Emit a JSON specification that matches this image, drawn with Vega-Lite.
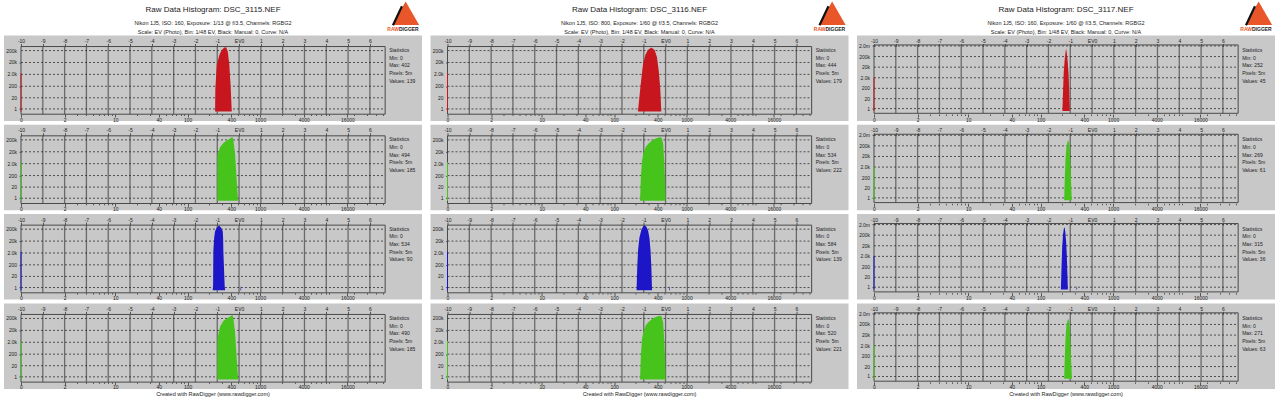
{
"$schema": "https://vega.github.io/schema/vega-lite/v6.json",
"background": "white",
"padding": {"left": 4, "top": 1.5, "right": 0, "bottom": 0},
"config": {"font": "Liberation Sans", "view": {"stroke": null, "fill": "#c8c8c8"}, "title": {"font": "Liberation Sans", "fontWeight": "normal", "color": "#222", "subtitleFont": "Liberation Sans", "subtitleColor": "#222"}, "axis": {"labelFont": "Liberation Sans", "domain": false, "grid": false, "tickColor": "#555", "labelFontSize": 5, "labelColor": "#222", "labelOverlap": false, "labelBound": false, "labelFlush": false}, "text": {"font": "Liberation Sans"}},
"datasets": {
"vgrid": [{"ev":-9},{"ev":-8},{"ev":-7},{"ev":-6},{"ev":-5},{"ev":-4},{"ev":-3},{"ev":-2},{"ev":-1},{"ev":0},{"ev":1},{"ev":2},{"ev":3},{"ev":4},{"ev":5},{"ev":6}],
"hgrid": [{"v":1,"lab":"1"},{"v":20,"lab":"20"},{"v":200,"lab":"200"},{"v":2000,"lab":"2.0k"},{"v":20000,"lab":"20k"},{"v":200000,"lab":"200k"},{"v":2000000,"lab":"2.0m"}],
"logo": [{"brand":"RawDigger"}],
"zero": [
{"p":1,"ch":"R","ev":-10,"n":2500},{"p":1,"ch":"G","ev":-10,"n":2500},{"p":1,"ch":"B","ev":-10,"n":2500},{"p":1,"ch":"G2","ev":-10,"n":2500},
{"p":2,"ch":"R","ev":-10,"n":2600},{"p":2,"ch":"G","ev":-10,"n":2600},{"p":2,"ch":"B","ev":-10,"n":2600},{"p":2,"ch":"G2","ev":-10,"n":2600},
{"p":3,"ch":"R","ev":-10,"n":2200},{"p":3,"ch":"G","ev":-10,"n":2200},{"p":3,"ch":"B","ev":-10,"n":2200},{"p":3,"ch":"G2","ev":-10,"n":2200}],
"stats": [
{"p":1,"ch":"R","txt":"Statistics\nMin: 0\nMax: 402\nPixels: 5m\nValues: 139"},
{"p":1,"ch":"G","txt":"Statistics\nMin: 0\nMax: 494\nPixels: 5m\nValues: 185"},
{"p":1,"ch":"B","txt":"Statistics\nMin: 0\nMax: 534\nPixels: 5m\nValues: 90"},
{"p":1,"ch":"G2","txt":"Statistics\nMin: 0\nMax: 490\nPixels: 5m\nValues: 185"},
{"p":2,"ch":"R","txt":"Statistics\nMin: 0\nMax: 444\nPixels: 5m\nValues: 179"},
{"p":2,"ch":"G","txt":"Statistics\nMin: 0\nMax: 534\nPixels: 5m\nValues: 222"},
{"p":2,"ch":"B","txt":"Statistics\nMin: 0\nMax: 584\nPixels: 5m\nValues: 139"},
{"p":2,"ch":"G2","txt":"Statistics\nMin: 0\nMax: 520\nPixels: 5m\nValues: 221"},
{"p":3,"ch":"R","txt":"Statistics\nMin: 0\nMax: 252\nPixels: 5m\nValues: 45"},
{"p":3,"ch":"G","txt":"Statistics\nMin: 0\nMax: 269\nPixels: 5m\nValues: 61"},
{"p":3,"ch":"B","txt":"Statistics\nMin: 0\nMax: 315\nPixels: 5m\nValues: 36"},
{"p":3,"ch":"G2","txt":"Statistics\nMin: 0\nMax: 271\nPixels: 5m\nValues: 63"}],
"hist": [
{"p":1,"ch":"R","ev":-1.10,"n":0},{"p":1,"ch":"R","ev":-1.087,"n":128},{"p":1,"ch":"R","ev":-1.023,"n":12100},{"p":1,"ch":"R","ev":-0.904,"n":84600},{"p":1,"ch":"R","ev":-0.794,"n":224000},{"p":1,"ch":"R","ev":-0.674,"n":358000},{"p":1,"ch":"R","ev":-0.596,"n":390000},{"p":1,"ch":"R","ev":-0.518,"n":164000},{"p":1,"ch":"R","ev":-0.445,"n":12100},{"p":1,"ch":"R","ev":-0.381,"n":128},{"p":1,"ch":"R","ev":-0.335,"n":0},
{"p":1,"ch":"G","ev":-1.00,"n":0},{"p":1,"ch":"G","ev":-0.992,"n":9550},{"p":1,"ch":"G","ev":-0.872,"n":49000},{"p":1,"ch":"G","ev":-0.72,"n":107000},{"p":1,"ch":"G","ev":-0.564,"n":177000},{"p":1,"ch":"G","ev":-0.413,"n":262000},{"p":1,"ch":"G","ev":-0.307,"n":344000},{"p":1,"ch":"G","ev":-0.261,"n":207000},{"p":1,"ch":"G","ev":-0.183,"n":13600},{"p":1,"ch":"G","ev":-0.106,"n":72},{"p":1,"ch":"G","ev":-0.046,"n":0},
{"p":1,"ch":"B","ev":-1.21,"n":0},{"p":1,"ch":"B","ev":-1.19,"n":2},{"p":1,"ch":"B","ev":-1.179,"n":2750},{"p":1,"ch":"B","ev":-1.14,"n":40000},{"p":1,"ch":"B","ev":-1.101,"n":135000},{"p":1,"ch":"B","ev":-1.02,"n":280000},{"p":1,"ch":"B","ev":-0.92,"n":400000},{"p":1,"ch":"B","ev":-0.83,"n":280000},{"p":1,"ch":"B","ev":-0.748,"n":135000},{"p":1,"ch":"B","ev":-0.73,"n":30000},{"p":1,"ch":"B","ev":-0.72,"n":2750},{"p":1,"ch":"B","ev":-0.66,"n":2},{"p":1,"ch":"B","ev":-0.64,"n":0},{"p":1,"ch":"B","ev":0.06,"n":0},{"p":1,"ch":"B","ev":0.08,"n":2},{"p":1,"ch":"B","ev":0.10,"n":0},
{"p":1,"ch":"G2","ev":-1.00,"n":0},{"p":1,"ch":"G2","ev":-0.992,"n":4000},{"p":1,"ch":"G2","ev":-0.872,"n":40000},{"p":1,"ch":"G2","ev":-0.72,"n":120000},{"p":1,"ch":"G2","ev":-0.564,"n":200000},{"p":1,"ch":"G2","ev":-0.413,"n":300000},{"p":1,"ch":"G2","ev":-0.307,"n":400000},{"p":1,"ch":"G2","ev":-0.261,"n":220000},{"p":1,"ch":"G2","ev":-0.183,"n":14000},{"p":1,"ch":"G2","ev":-0.106,"n":80},{"p":1,"ch":"G2","ev":-0.04,"n":0},
{"p":2,"ch":"R","ev":-1.268,"n":0},{"p":2,"ch":"R","ev":-1.144,"n":245},{"p":2,"ch":"R","ev":-1.039,"n":12100},{"p":2,"ch":"R","ev":-0.929,"n":84600},{"p":2,"ch":"R","ev":-0.810,"n":224000},{"p":2,"ch":"R","ev":-0.654,"n":358000},{"p":2,"ch":"R","ev":-0.503,"n":224000},{"p":2,"ch":"R","ev":-0.398,"n":62000},{"p":2,"ch":"R","ev":-0.307,"n":3340},{"p":2,"ch":"R","ev":-0.243,"n":128},{"p":2,"ch":"R","ev":-0.197,"n":0},
{"p":2,"ch":"G","ev":-1.17,"n":0},{"p":2,"ch":"G","ev":-1.13,"n":193},{"p":2,"ch":"G","ev":-1.08,"n":3614},{"p":2,"ch":"G","ev":-1.01,"n":17100},{"p":2,"ch":"G","ev":-0.90,"n":55200},{"p":2,"ch":"G","ev":-0.78,"n":98900},{"p":2,"ch":"G","ev":-0.62,"n":177000},{"p":2,"ch":"G","ev":-0.45,"n":262000},{"p":2,"ch":"G","ev":-0.28,"n":340000},{"p":2,"ch":"G","ev":-0.18,"n":300000},{"p":2,"ch":"G","ev":-0.11,"n":100000},{"p":2,"ch":"G","ev":-0.06,"n":3600},{"p":2,"ch":"G","ev":-0.02,"n":72},{"p":2,"ch":"G","ev":0.0,"n":0},
{"p":2,"ch":"B","ev":-1.33,"n":0},{"p":2,"ch":"B","ev":-1.30,"n":107},{"p":2,"ch":"B","ev":-1.26,"n":3614},{"p":2,"ch":"B","ev":-1.20,"n":37400},{"p":2,"ch":"B","ev":-1.12,"n":146000},{"p":2,"ch":"B","ev":-1.04,"n":318000},{"p":2,"ch":"B","ev":-0.96,"n":427000},{"p":2,"ch":"B","ev":-0.88,"n":318000},{"p":2,"ch":"B","ev":-0.80,"n":146000},{"p":2,"ch":"B","ev":-0.74,"n":37400},{"p":2,"ch":"B","ev":-0.69,"n":3614},{"p":2,"ch":"B","ev":-0.65,"n":107},{"p":2,"ch":"B","ev":-0.62,"n":0},{"p":2,"ch":"B","ev":0.17,"n":0},{"p":2,"ch":"B","ev":0.19,"n":2},{"p":2,"ch":"B","ev":0.21,"n":0},
{"p":2,"ch":"G2","ev":-1.17,"n":0},{"p":2,"ch":"G2","ev":-1.13,"n":200},{"p":2,"ch":"G2","ev":-1.08,"n":4000},{"p":2,"ch":"G2","ev":-1.01,"n":18000},{"p":2,"ch":"G2","ev":-0.90,"n":57000},{"p":2,"ch":"G2","ev":-0.78,"n":100000},{"p":2,"ch":"G2","ev":-0.62,"n":180000},{"p":2,"ch":"G2","ev":-0.45,"n":270000},{"p":2,"ch":"G2","ev":-0.28,"n":345000},{"p":2,"ch":"G2","ev":-0.18,"n":290000},{"p":2,"ch":"G2","ev":-0.11,"n":95000},{"p":2,"ch":"G2","ev":-0.06,"n":3400},{"p":2,"ch":"G2","ev":-0.02,"n":70},{"p":2,"ch":"G2","ev":0.0,"n":0},
{"p":3,"ch":"R","ev":-1.36,"n":0},{"p":3,"ch":"R","ev":-1.33,"n":116},{"p":3,"ch":"R","ev":-1.30,"n":5975},{"p":3,"ch":"R","ev":-1.26,"n":81900},{"p":3,"ch":"R","ev":-1.22,"n":469000},{"p":3,"ch":"R","ev":-1.19,"n":1122000},{"p":3,"ch":"R","ev":-1.16,"n":469000},{"p":3,"ch":"R","ev":-1.12,"n":81900},{"p":3,"ch":"R","ev":-1.08,"n":5975},{"p":3,"ch":"R","ev":-1.05,"n":181},{"p":3,"ch":"R","ev":-1.02,"n":0},
{"p":3,"ch":"G","ev":-1.28,"n":0},{"p":3,"ch":"G","ev":-1.25,"n":181},{"p":3,"ch":"G","ev":-1.22,"n":9240},{"p":3,"ch":"G","ev":-1.18,"n":127000},{"p":3,"ch":"G","ev":-1.13,"n":469000},{"p":3,"ch":"G","ev":-1.09,"n":726000},{"p":3,"ch":"G","ev":-1.05,"n":377000},{"p":3,"ch":"G","ev":-1.02,"n":81900},{"p":3,"ch":"G","ev":-0.99,"n":3860},{"p":3,"ch":"G","ev":-0.96,"n":73},{"p":3,"ch":"G","ev":-0.93,"n":0},
{"p":3,"ch":"B","ev":-1.43,"n":0},{"p":3,"ch":"B","ev":-1.40,"n":181},{"p":3,"ch":"B","ev":-1.37,"n":14300},{"p":3,"ch":"B","ev":-1.33,"n":244000},{"p":3,"ch":"B","ev":-1.29,"n":903000},{"p":3,"ch":"B","ev":-1.26,"n":1122000},{"p":3,"ch":"B","ev":-1.23,"n":469000},{"p":3,"ch":"B","ev":-1.19,"n":53000},{"p":3,"ch":"B","ev":-1.16,"n":3100},{"p":3,"ch":"B","ev":-1.13,"n":38},{"p":3,"ch":"B","ev":-1.11,"n":0},{"p":3,"ch":"B","ev":-0.72,"n":0},{"p":3,"ch":"B","ev":-0.70,"n":2},{"p":3,"ch":"B","ev":-0.68,"n":0},
{"p":3,"ch":"G2","ev":-1.28,"n":0},{"p":3,"ch":"G2","ev":-1.25,"n":150},{"p":3,"ch":"G2","ev":-1.22,"n":8000},{"p":3,"ch":"G2","ev":-1.18,"n":120000},{"p":3,"ch":"G2","ev":-1.13,"n":450000},{"p":3,"ch":"G2","ev":-1.09,"n":700000},{"p":3,"ch":"G2","ev":-1.05,"n":360000},{"p":3,"ch":"G2","ev":-1.02,"n":80000},{"p":3,"ch":"G2","ev":-0.99,"n":4000},{"p":3,"ch":"G2","ev":-0.96,"n":80},{"p":3,"ch":"G2","ev":-0.92,"n":0}
]
},
"spacing": 8.5,
"hconcat": [
{"spacing": 2.3,
 "title": {"text": "Raw Data Histogram: DSC_3115.NEF", "subtitle": ["Nikon 1J5, ISO: 160, Exposure: 1/13 @ f/3.5, Channels: RGBG2", "Scale: EV (Photo), Bin: 1/48 EV, Black: Manual: 0, Curve: N/A"], "anchor": "middle", "fontSize": 8, "subtitleFontSize": 5.5, "subtitlePadding": 6.5, "subtitleLineHeight": 9.5, "offset": -34},
 "vconcat": [
  {"width":418,"height":85.5,"resolve":{"axis":{"x":"independent"}},"layer":[
   {"data":{"name":"vgrid"},"mark":{"type":"rule","color":"#6a6a6a","strokeWidth":1.3},"encoding":{"x":{"field":"ev","type":"quantitative","title":null,"scale":{"domain":[-10.78,8.39],"nice":false,"zero":false},"axis":{"orient":"top","offset":-11,"values":[-10,-9,-8,-7,-6,-5,-4,-3,-2,-1,0,1,2,3,4,5,6],"labelExpr":"datum.value == 0 ? 'EV0' : '' + datum.value","tickSize":3,"labelPadding":0,"title":null}},"y":{"datum":-1,"type":"quantitative","title":null,"scale":{"type":"symlog","constant":1.5,"domain":[-7.8,3700000],"nice":false,"zero":false},"axis":{"orient":"left","offset":-17,"values":[1,20,200,2000,20000,200000],"labels":false,"tickSize":2,"title":null}},"y2":{"datum":437000}}},
   {"data":{"name":"hgrid"},"transform":[{"filter":"datum.v < 1000000"}],"mark":{"type":"rule","color":"#303030","strokeWidth":0.8,"strokeDash":[2,2]},"encoding":{"x":{"datum":-10,"type":"quantitative","axis":null},"x2":{"datum":6.7},"y":{"field":"v","type":"quantitative","title":null}}},
   {"data":{"name":"hgrid"},"transform":[{"filter":"datum.v < 1000000"}],"mark":{"type":"text","align":"right","baseline":"middle","dx":-4,"fontSize":5,"color":"#222"},"encoding":{"x":{"datum":-10,"type":"quantitative","axis":null},"y":{"field":"v","type":"quantitative","title":null},"text":{"field":"lab"}}},
   {"data":{"values":[{}]},"mark":{"type":"rect","fillOpacity":0,"stroke":"#4a4a4a","strokeWidth":1},"encoding":{"x":{"datum":-10,"type":"quantitative","axis":{"orient":"bottom","offset":-7,"values":[-10,-8,-7.41504,-7,-6.67807,-6.41504,-6.19265,-6,-5.83007,-5.678072,-4.67807,-4.09311,-3.678072,-3.35614,-3.09311,-2.87072,-2.67807,-2.50815,-2.356144,-1.35614,-0.77118,-0.356144,-0.03422,0.22882,0.45121,0.64386,0.81378,0.965784,1.96578,2.55075,2.965784,3.28771,3.55075,3.77314,3.96578,4.13571,4.965784,5.28771,5.87267,6.28771,6.60964],"labelExpr":"datum.value <= -10 ? '0' : (indexof([2,10,40,100,400,1000,4000,16000], round(512*pow(2, datum.value))) >= 0 ? '' + round(512*pow(2, datum.value)) : '')","tickSize":{"condition":{"test":"datum.value <= -10 || indexof([2,10,40,100,400,1000,4000,16000], round(512*pow(2, datum.value))) >= 0","value":3},"value":1.5},"labelPadding":0,"title":null}},"x2":{"datum":6.7},"y":{"datum":-1,"type":"quantitative"},"y2":{"datum":437000}}},
   {"data":{"name":"hist"},"transform":[{"filter":"datum.p == 1 && datum.ch == 'R'"}],"mark":{"type":"area","color":"#c8161e"},"encoding":{"x":{"field":"ev","type":"quantitative","axis":null},"y":{"field":"n","type":"quantitative","title":null},"y2":{"datum":0}}},
   {"data":{"name":"zero"},"transform":[{"filter":"datum.p == 1 && datum.ch == 'R'"}],"mark":{"type":"rule","color":"#c8161e","strokeWidth":1},"encoding":{"x":{"field":"ev","type":"quantitative","axis":null},"y":{"field":"n","type":"quantitative"},"y2":{"datum":0}}},
   {"data":{"name":"stats"},"transform":[{"filter":"datum.p == 1 && datum.ch == 'R'"}],"mark":{"type":"text","align":"left","baseline":"top","dx":4,"dy":1.5,"fontSize":5,"lineHeight":7.7,"lineBreak":"\n","color":"#222"},"encoding":{"x":{"datum":6.7,"type":"quantitative","axis":null},"y":{"datum":437000,"type":"quantitative"},"text":{"field":"txt"}}},
   {"data":{"name":"logo"},"mark":{"type":"point","shape":"triangle-up","filled":true,"size":729,"color":"#e8562a","opacity":1},"encoding":{"x":{"datum":7.64,"type":"quantitative","axis":null},"y":{"datum":277000000,"type":"quantitative"}}},
   {"data":{"name":"logo"},"mark":{"type":"rule","color":"#111","strokeWidth":2.2},"encoding":{"x":{"datum":7.06,"type":"quantitative","axis":null},"x2":{"datum":7.47},"y":{"datum":27200000,"type":"quantitative"},"y2":{"datum":1080000000}}},
   {"data":{"name":"logo"},"mark":{"type":"text","text":"RAW","align":"right","baseline":"middle","fontSize":5,"fontWeight":"bold","color":"#e8562a"},"encoding":{"x":{"datum":7.335,"type":"quantitative","axis":null},"y":{"datum":12500000,"type":"quantitative"}}},
   {"data":{"name":"logo"},"mark":{"type":"text","text":"DIGGER","align":"left","baseline":"middle","fontSize":5,"fontWeight":"bold","color":"#222"},"encoding":{"x":{"datum":7.335,"type":"quantitative","axis":null},"y":{"datum":12500000,"type":"quantitative"}}}
  ]},
  {"width":418,"height":85.5,"resolve":{"axis":{"x":"independent"}},"layer":[
   {"data":{"name":"vgrid"},"mark":{"type":"rule","color":"#6a6a6a","strokeWidth":1.3},"encoding":{"x":{"field":"ev","type":"quantitative","title":null,"scale":{"domain":[-10.78,8.39],"nice":false,"zero":false},"axis":{"orient":"top","offset":-11,"values":[-10,-9,-8,-7,-6,-5,-4,-3,-2,-1,0,1,2,3,4,5,6],"labelExpr":"datum.value == 0 ? 'EV0' : '' + datum.value","tickSize":3,"labelPadding":0,"title":null}},"y":{"datum":-1,"type":"quantitative","title":null,"scale":{"type":"symlog","constant":1.5,"domain":[-7.8,3700000],"nice":false,"zero":false},"axis":{"orient":"left","offset":-17,"values":[1,20,200,2000,20000,200000],"labels":false,"tickSize":2,"title":null}},"y2":{"datum":437000}}},
   {"data":{"name":"hgrid"},"transform":[{"filter":"datum.v < 1000000"}],"mark":{"type":"rule","color":"#303030","strokeWidth":0.8,"strokeDash":[2,2]},"encoding":{"x":{"datum":-10,"type":"quantitative","axis":null},"x2":{"datum":6.7},"y":{"field":"v","type":"quantitative","title":null}}},
   {"data":{"name":"hgrid"},"transform":[{"filter":"datum.v < 1000000"}],"mark":{"type":"text","align":"right","baseline":"middle","dx":-4,"fontSize":5,"color":"#222"},"encoding":{"x":{"datum":-10,"type":"quantitative","axis":null},"y":{"field":"v","type":"quantitative","title":null},"text":{"field":"lab"}}},
   {"data":{"values":[{}]},"mark":{"type":"rect","fillOpacity":0,"stroke":"#4a4a4a","strokeWidth":1},"encoding":{"x":{"datum":-10,"type":"quantitative","axis":{"orient":"bottom","offset":-7,"values":[-10,-8,-7.41504,-7,-6.67807,-6.41504,-6.19265,-6,-5.83007,-5.678072,-4.67807,-4.09311,-3.678072,-3.35614,-3.09311,-2.87072,-2.67807,-2.50815,-2.356144,-1.35614,-0.77118,-0.356144,-0.03422,0.22882,0.45121,0.64386,0.81378,0.965784,1.96578,2.55075,2.965784,3.28771,3.55075,3.77314,3.96578,4.13571,4.965784,5.28771,5.87267,6.28771,6.60964],"labelExpr":"datum.value <= -10 ? '0' : (indexof([2,10,40,100,400,1000,4000,16000], round(512*pow(2, datum.value))) >= 0 ? '' + round(512*pow(2, datum.value)) : '')","tickSize":{"condition":{"test":"datum.value <= -10 || indexof([2,10,40,100,400,1000,4000,16000], round(512*pow(2, datum.value))) >= 0","value":3},"value":1.5},"labelPadding":0,"title":null}},"x2":{"datum":6.7},"y":{"datum":-1,"type":"quantitative"},"y2":{"datum":437000}}},
   {"data":{"name":"hist"},"transform":[{"filter":"datum.p == 1 && datum.ch == 'G'"}],"mark":{"type":"area","color":"#47c41c"},"encoding":{"x":{"field":"ev","type":"quantitative","axis":null},"y":{"field":"n","type":"quantitative","title":null},"y2":{"datum":0}}},
   {"data":{"name":"zero"},"transform":[{"filter":"datum.p == 1 && datum.ch == 'G'"}],"mark":{"type":"rule","color":"#47c41c","strokeWidth":1},"encoding":{"x":{"field":"ev","type":"quantitative","axis":null},"y":{"field":"n","type":"quantitative"},"y2":{"datum":0}}},
   {"data":{"name":"stats"},"transform":[{"filter":"datum.p == 1 && datum.ch == 'G'"}],"mark":{"type":"text","align":"left","baseline":"top","dx":4,"dy":1.5,"fontSize":5,"lineHeight":7.7,"lineBreak":"\n","color":"#222"},"encoding":{"x":{"datum":6.7,"type":"quantitative","axis":null},"y":{"datum":437000,"type":"quantitative"},"text":{"field":"txt"}}}
  ]},
  {"width":418,"height":85.5,"resolve":{"axis":{"x":"independent"}},"layer":[
   {"data":{"name":"vgrid"},"mark":{"type":"rule","color":"#6a6a6a","strokeWidth":1.3},"encoding":{"x":{"field":"ev","type":"quantitative","title":null,"scale":{"domain":[-10.78,8.39],"nice":false,"zero":false},"axis":{"orient":"top","offset":-11,"values":[-10,-9,-8,-7,-6,-5,-4,-3,-2,-1,0,1,2,3,4,5,6],"labelExpr":"datum.value == 0 ? 'EV0' : '' + datum.value","tickSize":3,"labelPadding":0,"title":null}},"y":{"datum":-1,"type":"quantitative","title":null,"scale":{"type":"symlog","constant":1.5,"domain":[-7.8,3700000],"nice":false,"zero":false},"axis":{"orient":"left","offset":-17,"values":[1,20,200,2000,20000,200000],"labels":false,"tickSize":2,"title":null}},"y2":{"datum":437000}}},
   {"data":{"name":"hgrid"},"transform":[{"filter":"datum.v < 1000000"}],"mark":{"type":"rule","color":"#303030","strokeWidth":0.8,"strokeDash":[2,2]},"encoding":{"x":{"datum":-10,"type":"quantitative","axis":null},"x2":{"datum":6.7},"y":{"field":"v","type":"quantitative","title":null}}},
   {"data":{"name":"hgrid"},"transform":[{"filter":"datum.v < 1000000"}],"mark":{"type":"text","align":"right","baseline":"middle","dx":-4,"fontSize":5,"color":"#222"},"encoding":{"x":{"datum":-10,"type":"quantitative","axis":null},"y":{"field":"v","type":"quantitative","title":null},"text":{"field":"lab"}}},
   {"data":{"values":[{}]},"mark":{"type":"rect","fillOpacity":0,"stroke":"#4a4a4a","strokeWidth":1},"encoding":{"x":{"datum":-10,"type":"quantitative","axis":{"orient":"bottom","offset":-7,"values":[-10,-8,-7.41504,-7,-6.67807,-6.41504,-6.19265,-6,-5.83007,-5.678072,-4.67807,-4.09311,-3.678072,-3.35614,-3.09311,-2.87072,-2.67807,-2.50815,-2.356144,-1.35614,-0.77118,-0.356144,-0.03422,0.22882,0.45121,0.64386,0.81378,0.965784,1.96578,2.55075,2.965784,3.28771,3.55075,3.77314,3.96578,4.13571,4.965784,5.28771,5.87267,6.28771,6.60964],"labelExpr":"datum.value <= -10 ? '0' : (indexof([2,10,40,100,400,1000,4000,16000], round(512*pow(2, datum.value))) >= 0 ? '' + round(512*pow(2, datum.value)) : '')","tickSize":{"condition":{"test":"datum.value <= -10 || indexof([2,10,40,100,400,1000,4000,16000], round(512*pow(2, datum.value))) >= 0","value":3},"value":1.5},"labelPadding":0,"title":null}},"x2":{"datum":6.7},"y":{"datum":-1,"type":"quantitative"},"y2":{"datum":437000}}},
   {"data":{"name":"hist"},"transform":[{"filter":"datum.p == 1 && datum.ch == 'B'"}],"mark":{"type":"area","color":"#1c16c8"},"encoding":{"x":{"field":"ev","type":"quantitative","axis":null},"y":{"field":"n","type":"quantitative","title":null},"y2":{"datum":0}}},
   {"data":{"name":"zero"},"transform":[{"filter":"datum.p == 1 && datum.ch == 'B'"}],"mark":{"type":"rule","color":"#1c16c8","strokeWidth":1},"encoding":{"x":{"field":"ev","type":"quantitative","axis":null},"y":{"field":"n","type":"quantitative"},"y2":{"datum":0}}},
   {"data":{"name":"stats"},"transform":[{"filter":"datum.p == 1 && datum.ch == 'B'"}],"mark":{"type":"text","align":"left","baseline":"top","dx":4,"dy":1.5,"fontSize":5,"lineHeight":7.7,"lineBreak":"\n","color":"#222"},"encoding":{"x":{"datum":6.7,"type":"quantitative","axis":null},"y":{"datum":437000,"type":"quantitative"},"text":{"field":"txt"}}}
  ]},
  {"width":418,"height":85.5,"resolve":{"axis":{"x":"independent"}},
   "title":{"text":"Created with RawDigger (www.rawdigger.com)","orient":"bottom","anchor":"middle","fontSize":5.5,"offset":2},
   "layer":[
   {"data":{"name":"vgrid"},"mark":{"type":"rule","color":"#6a6a6a","strokeWidth":1.3},"encoding":{"x":{"field":"ev","type":"quantitative","title":null,"scale":{"domain":[-10.78,8.39],"nice":false,"zero":false},"axis":{"orient":"top","offset":-11,"values":[-10,-9,-8,-7,-6,-5,-4,-3,-2,-1,0,1,2,3,4,5,6],"labelExpr":"datum.value == 0 ? 'EV0' : '' + datum.value","tickSize":3,"labelPadding":0,"title":null}},"y":{"datum":-1,"type":"quantitative","title":null,"scale":{"type":"symlog","constant":1.5,"domain":[-7.8,3700000],"nice":false,"zero":false},"axis":{"orient":"left","offset":-17,"values":[1,20,200,2000,20000,200000],"labels":false,"tickSize":2,"title":null}},"y2":{"datum":437000}}},
   {"data":{"name":"hgrid"},"transform":[{"filter":"datum.v < 1000000"}],"mark":{"type":"rule","color":"#303030","strokeWidth":0.8,"strokeDash":[2,2]},"encoding":{"x":{"datum":-10,"type":"quantitative","axis":null},"x2":{"datum":6.7},"y":{"field":"v","type":"quantitative","title":null}}},
   {"data":{"name":"hgrid"},"transform":[{"filter":"datum.v < 1000000"}],"mark":{"type":"text","align":"right","baseline":"middle","dx":-4,"fontSize":5,"color":"#222"},"encoding":{"x":{"datum":-10,"type":"quantitative","axis":null},"y":{"field":"v","type":"quantitative","title":null},"text":{"field":"lab"}}},
   {"data":{"values":[{}]},"mark":{"type":"rect","fillOpacity":0,"stroke":"#4a4a4a","strokeWidth":1},"encoding":{"x":{"datum":-10,"type":"quantitative","axis":{"orient":"bottom","offset":-7,"values":[-10,-8,-7.41504,-7,-6.67807,-6.41504,-6.19265,-6,-5.83007,-5.678072,-4.67807,-4.09311,-3.678072,-3.35614,-3.09311,-2.87072,-2.67807,-2.50815,-2.356144,-1.35614,-0.77118,-0.356144,-0.03422,0.22882,0.45121,0.64386,0.81378,0.965784,1.96578,2.55075,2.965784,3.28771,3.55075,3.77314,3.96578,4.13571,4.965784,5.28771,5.87267,6.28771,6.60964],"labelExpr":"datum.value <= -10 ? '0' : (indexof([2,10,40,100,400,1000,4000,16000], round(512*pow(2, datum.value))) >= 0 ? '' + round(512*pow(2, datum.value)) : '')","tickSize":{"condition":{"test":"datum.value <= -10 || indexof([2,10,40,100,400,1000,4000,16000], round(512*pow(2, datum.value))) >= 0","value":3},"value":1.5},"labelPadding":0,"title":null}},"x2":{"datum":6.7},"y":{"datum":-1,"type":"quantitative"},"y2":{"datum":437000}}},
   {"data":{"name":"hist"},"transform":[{"filter":"datum.p == 1 && datum.ch == 'G2'"}],"mark":{"type":"area","color":"#47c41c"},"encoding":{"x":{"field":"ev","type":"quantitative","axis":null},"y":{"field":"n","type":"quantitative","title":null},"y2":{"datum":0}}},
   {"data":{"name":"zero"},"transform":[{"filter":"datum.p == 1 && datum.ch == 'G2'"}],"mark":{"type":"rule","color":"#47c41c","strokeWidth":1},"encoding":{"x":{"field":"ev","type":"quantitative","axis":null},"y":{"field":"n","type":"quantitative"},"y2":{"datum":0}}},
   {"data":{"name":"stats"},"transform":[{"filter":"datum.p == 1 && datum.ch == 'G2'"}],"mark":{"type":"text","align":"left","baseline":"top","dx":4,"dy":1.5,"fontSize":5,"lineHeight":7.7,"lineBreak":"\n","color":"#222"},"encoding":{"x":{"datum":6.7,"type":"quantitative","axis":null},"y":{"datum":437000,"type":"quantitative"},"text":{"field":"txt"}}}
  ]}
 ]},
{"spacing": 2.3,
 "title": {"text": "Raw Data Histogram: DSC_3116.NEF", "subtitle": ["Nikon 1J5, ISO: 800, Exposure: 1/60 @ f/3.5, Channels: RGBG2", "Scale: EV (Photo), Bin: 1/48 EV, Black: Manual: 0, Curve: N/A"], "anchor": "middle", "fontSize": 8, "subtitleFontSize": 5.5, "subtitlePadding": 6.5, "subtitleLineHeight": 9.5, "offset": -34},
 "vconcat": [
  {"width":418,"height":85.5,"resolve":{"axis":{"x":"independent"}},"layer":[
   {"data":{"name":"vgrid"},"mark":{"type":"rule","color":"#6a6a6a","strokeWidth":1.3},"encoding":{"x":{"field":"ev","type":"quantitative","title":null,"scale":{"domain":[-10.78,8.39],"nice":false,"zero":false},"axis":{"orient":"top","offset":-11,"values":[-10,-9,-8,-7,-6,-5,-4,-3,-2,-1,0,1,2,3,4,5,6],"labelExpr":"datum.value == 0 ? 'EV0' : '' + datum.value","tickSize":3,"labelPadding":0,"title":null}},"y":{"datum":-1,"type":"quantitative","title":null,"scale":{"type":"symlog","constant":1.5,"domain":[-7.8,3700000],"nice":false,"zero":false},"axis":{"orient":"left","offset":-17,"values":[1,20,200,2000,20000,200000],"labels":false,"tickSize":2,"title":null}},"y2":{"datum":437000}}},
   {"data":{"name":"hgrid"},"transform":[{"filter":"datum.v < 1000000"}],"mark":{"type":"rule","color":"#303030","strokeWidth":0.8,"strokeDash":[2,2]},"encoding":{"x":{"datum":-10,"type":"quantitative","axis":null},"x2":{"datum":6.7},"y":{"field":"v","type":"quantitative","title":null}}},
   {"data":{"name":"hgrid"},"transform":[{"filter":"datum.v < 1000000"}],"mark":{"type":"text","align":"right","baseline":"middle","dx":-4,"fontSize":5,"color":"#222"},"encoding":{"x":{"datum":-10,"type":"quantitative","axis":null},"y":{"field":"v","type":"quantitative","title":null},"text":{"field":"lab"}}},
   {"data":{"values":[{}]},"mark":{"type":"rect","fillOpacity":0,"stroke":"#4a4a4a","strokeWidth":1},"encoding":{"x":{"datum":-10,"type":"quantitative","axis":{"orient":"bottom","offset":-7,"values":[-10,-8,-7.41504,-7,-6.67807,-6.41504,-6.19265,-6,-5.83007,-5.678072,-4.67807,-4.09311,-3.678072,-3.35614,-3.09311,-2.87072,-2.67807,-2.50815,-2.356144,-1.35614,-0.77118,-0.356144,-0.03422,0.22882,0.45121,0.64386,0.81378,0.965784,1.96578,2.55075,2.965784,3.28771,3.55075,3.77314,3.96578,4.13571,4.965784,5.28771,5.87267,6.28771,6.60964],"labelExpr":"datum.value <= -10 ? '0' : (indexof([2,10,40,100,400,1000,4000,16000], round(512*pow(2, datum.value))) >= 0 ? '' + round(512*pow(2, datum.value)) : '')","tickSize":{"condition":{"test":"datum.value <= -10 || indexof([2,10,40,100,400,1000,4000,16000], round(512*pow(2, datum.value))) >= 0","value":3},"value":1.5},"labelPadding":0,"title":null}},"x2":{"datum":6.7},"y":{"datum":-1,"type":"quantitative"},"y2":{"datum":437000}}},
   {"data":{"name":"hist"},"transform":[{"filter":"datum.p == 2 && datum.ch == 'R'"}],"mark":{"type":"area","color":"#c8161e"},"encoding":{"x":{"field":"ev","type":"quantitative","axis":null},"y":{"field":"n","type":"quantitative","title":null},"y2":{"datum":0}}},
   {"data":{"name":"zero"},"transform":[{"filter":"datum.p == 2 && datum.ch == 'R'"}],"mark":{"type":"rule","color":"#c8161e","strokeWidth":1},"encoding":{"x":{"field":"ev","type":"quantitative","axis":null},"y":{"field":"n","type":"quantitative"},"y2":{"datum":0}}},
   {"data":{"name":"stats"},"transform":[{"filter":"datum.p == 2 && datum.ch == 'R'"}],"mark":{"type":"text","align":"left","baseline":"top","dx":4,"dy":1.5,"fontSize":5,"lineHeight":7.7,"lineBreak":"\n","color":"#222"},"encoding":{"x":{"datum":6.7,"type":"quantitative","axis":null},"y":{"datum":437000,"type":"quantitative"},"text":{"field":"txt"}}},
   {"data":{"name":"logo"},"mark":{"type":"point","shape":"triangle-up","filled":true,"size":729,"color":"#e8562a","opacity":1},"encoding":{"x":{"datum":7.64,"type":"quantitative","axis":null},"y":{"datum":277000000,"type":"quantitative"}}},
   {"data":{"name":"logo"},"mark":{"type":"rule","color":"#111","strokeWidth":2.2},"encoding":{"x":{"datum":7.06,"type":"quantitative","axis":null},"x2":{"datum":7.47},"y":{"datum":27200000,"type":"quantitative"},"y2":{"datum":1080000000}}},
   {"data":{"name":"logo"},"mark":{"type":"text","text":"RAW","align":"right","baseline":"middle","fontSize":5,"fontWeight":"bold","color":"#e8562a"},"encoding":{"x":{"datum":7.335,"type":"quantitative","axis":null},"y":{"datum":12500000,"type":"quantitative"}}},
   {"data":{"name":"logo"},"mark":{"type":"text","text":"DIGGER","align":"left","baseline":"middle","fontSize":5,"fontWeight":"bold","color":"#222"},"encoding":{"x":{"datum":7.335,"type":"quantitative","axis":null},"y":{"datum":12500000,"type":"quantitative"}}}
  ]},
  {"width":418,"height":85.5,"resolve":{"axis":{"x":"independent"}},"layer":[
   {"data":{"name":"vgrid"},"mark":{"type":"rule","color":"#6a6a6a","strokeWidth":1.3},"encoding":{"x":{"field":"ev","type":"quantitative","title":null,"scale":{"domain":[-10.78,8.39],"nice":false,"zero":false},"axis":{"orient":"top","offset":-11,"values":[-10,-9,-8,-7,-6,-5,-4,-3,-2,-1,0,1,2,3,4,5,6],"labelExpr":"datum.value == 0 ? 'EV0' : '' + datum.value","tickSize":3,"labelPadding":0,"title":null}},"y":{"datum":-1,"type":"quantitative","title":null,"scale":{"type":"symlog","constant":1.5,"domain":[-7.8,3700000],"nice":false,"zero":false},"axis":{"orient":"left","offset":-17,"values":[1,20,200,2000,20000,200000],"labels":false,"tickSize":2,"title":null}},"y2":{"datum":437000}}},
   {"data":{"name":"hgrid"},"transform":[{"filter":"datum.v < 1000000"}],"mark":{"type":"rule","color":"#303030","strokeWidth":0.8,"strokeDash":[2,2]},"encoding":{"x":{"datum":-10,"type":"quantitative","axis":null},"x2":{"datum":6.7},"y":{"field":"v","type":"quantitative","title":null}}},
   {"data":{"name":"hgrid"},"transform":[{"filter":"datum.v < 1000000"}],"mark":{"type":"text","align":"right","baseline":"middle","dx":-4,"fontSize":5,"color":"#222"},"encoding":{"x":{"datum":-10,"type":"quantitative","axis":null},"y":{"field":"v","type":"quantitative","title":null},"text":{"field":"lab"}}},
   {"data":{"values":[{}]},"mark":{"type":"rect","fillOpacity":0,"stroke":"#4a4a4a","strokeWidth":1},"encoding":{"x":{"datum":-10,"type":"quantitative","axis":{"orient":"bottom","offset":-7,"values":[-10,-8,-7.41504,-7,-6.67807,-6.41504,-6.19265,-6,-5.83007,-5.678072,-4.67807,-4.09311,-3.678072,-3.35614,-3.09311,-2.87072,-2.67807,-2.50815,-2.356144,-1.35614,-0.77118,-0.356144,-0.03422,0.22882,0.45121,0.64386,0.81378,0.965784,1.96578,2.55075,2.965784,3.28771,3.55075,3.77314,3.96578,4.13571,4.965784,5.28771,5.87267,6.28771,6.60964],"labelExpr":"datum.value <= -10 ? '0' : (indexof([2,10,40,100,400,1000,4000,16000], round(512*pow(2, datum.value))) >= 0 ? '' + round(512*pow(2, datum.value)) : '')","tickSize":{"condition":{"test":"datum.value <= -10 || indexof([2,10,40,100,400,1000,4000,16000], round(512*pow(2, datum.value))) >= 0","value":3},"value":1.5},"labelPadding":0,"title":null}},"x2":{"datum":6.7},"y":{"datum":-1,"type":"quantitative"},"y2":{"datum":437000}}},
   {"data":{"name":"hist"},"transform":[{"filter":"datum.p == 2 && datum.ch == 'G'"}],"mark":{"type":"area","color":"#47c41c"},"encoding":{"x":{"field":"ev","type":"quantitative","axis":null},"y":{"field":"n","type":"quantitative","title":null},"y2":{"datum":0}}},
   {"data":{"name":"zero"},"transform":[{"filter":"datum.p == 2 && datum.ch == 'G'"}],"mark":{"type":"rule","color":"#47c41c","strokeWidth":1},"encoding":{"x":{"field":"ev","type":"quantitative","axis":null},"y":{"field":"n","type":"quantitative"},"y2":{"datum":0}}},
   {"data":{"name":"stats"},"transform":[{"filter":"datum.p == 2 && datum.ch == 'G'"}],"mark":{"type":"text","align":"left","baseline":"top","dx":4,"dy":1.5,"fontSize":5,"lineHeight":7.7,"lineBreak":"\n","color":"#222"},"encoding":{"x":{"datum":6.7,"type":"quantitative","axis":null},"y":{"datum":437000,"type":"quantitative"},"text":{"field":"txt"}}}
  ]},
  {"width":418,"height":85.5,"resolve":{"axis":{"x":"independent"}},"layer":[
   {"data":{"name":"vgrid"},"mark":{"type":"rule","color":"#6a6a6a","strokeWidth":1.3},"encoding":{"x":{"field":"ev","type":"quantitative","title":null,"scale":{"domain":[-10.78,8.39],"nice":false,"zero":false},"axis":{"orient":"top","offset":-11,"values":[-10,-9,-8,-7,-6,-5,-4,-3,-2,-1,0,1,2,3,4,5,6],"labelExpr":"datum.value == 0 ? 'EV0' : '' + datum.value","tickSize":3,"labelPadding":0,"title":null}},"y":{"datum":-1,"type":"quantitative","title":null,"scale":{"type":"symlog","constant":1.5,"domain":[-7.8,3700000],"nice":false,"zero":false},"axis":{"orient":"left","offset":-17,"values":[1,20,200,2000,20000,200000],"labels":false,"tickSize":2,"title":null}},"y2":{"datum":437000}}},
   {"data":{"name":"hgrid"},"transform":[{"filter":"datum.v < 1000000"}],"mark":{"type":"rule","color":"#303030","strokeWidth":0.8,"strokeDash":[2,2]},"encoding":{"x":{"datum":-10,"type":"quantitative","axis":null},"x2":{"datum":6.7},"y":{"field":"v","type":"quantitative","title":null}}},
   {"data":{"name":"hgrid"},"transform":[{"filter":"datum.v < 1000000"}],"mark":{"type":"text","align":"right","baseline":"middle","dx":-4,"fontSize":5,"color":"#222"},"encoding":{"x":{"datum":-10,"type":"quantitative","axis":null},"y":{"field":"v","type":"quantitative","title":null},"text":{"field":"lab"}}},
   {"data":{"values":[{}]},"mark":{"type":"rect","fillOpacity":0,"stroke":"#4a4a4a","strokeWidth":1},"encoding":{"x":{"datum":-10,"type":"quantitative","axis":{"orient":"bottom","offset":-7,"values":[-10,-8,-7.41504,-7,-6.67807,-6.41504,-6.19265,-6,-5.83007,-5.678072,-4.67807,-4.09311,-3.678072,-3.35614,-3.09311,-2.87072,-2.67807,-2.50815,-2.356144,-1.35614,-0.77118,-0.356144,-0.03422,0.22882,0.45121,0.64386,0.81378,0.965784,1.96578,2.55075,2.965784,3.28771,3.55075,3.77314,3.96578,4.13571,4.965784,5.28771,5.87267,6.28771,6.60964],"labelExpr":"datum.value <= -10 ? '0' : (indexof([2,10,40,100,400,1000,4000,16000], round(512*pow(2, datum.value))) >= 0 ? '' + round(512*pow(2, datum.value)) : '')","tickSize":{"condition":{"test":"datum.value <= -10 || indexof([2,10,40,100,400,1000,4000,16000], round(512*pow(2, datum.value))) >= 0","value":3},"value":1.5},"labelPadding":0,"title":null}},"x2":{"datum":6.7},"y":{"datum":-1,"type":"quantitative"},"y2":{"datum":437000}}},
   {"data":{"name":"hist"},"transform":[{"filter":"datum.p == 2 && datum.ch == 'B'"}],"mark":{"type":"area","color":"#1c16c8"},"encoding":{"x":{"field":"ev","type":"quantitative","axis":null},"y":{"field":"n","type":"quantitative","title":null},"y2":{"datum":0}}},
   {"data":{"name":"zero"},"transform":[{"filter":"datum.p == 2 && datum.ch == 'B'"}],"mark":{"type":"rule","color":"#1c16c8","strokeWidth":1},"encoding":{"x":{"field":"ev","type":"quantitative","axis":null},"y":{"field":"n","type":"quantitative"},"y2":{"datum":0}}},
   {"data":{"name":"stats"},"transform":[{"filter":"datum.p == 2 && datum.ch == 'B'"}],"mark":{"type":"text","align":"left","baseline":"top","dx":4,"dy":1.5,"fontSize":5,"lineHeight":7.7,"lineBreak":"\n","color":"#222"},"encoding":{"x":{"datum":6.7,"type":"quantitative","axis":null},"y":{"datum":437000,"type":"quantitative"},"text":{"field":"txt"}}}
  ]},
  {"width":418,"height":85.5,"resolve":{"axis":{"x":"independent"}},
   "title":{"text":"Created with RawDigger (www.rawdigger.com)","orient":"bottom","anchor":"middle","fontSize":5.5,"offset":2},
   "layer":[
   {"data":{"name":"vgrid"},"mark":{"type":"rule","color":"#6a6a6a","strokeWidth":1.3},"encoding":{"x":{"field":"ev","type":"quantitative","title":null,"scale":{"domain":[-10.78,8.39],"nice":false,"zero":false},"axis":{"orient":"top","offset":-11,"values":[-10,-9,-8,-7,-6,-5,-4,-3,-2,-1,0,1,2,3,4,5,6],"labelExpr":"datum.value == 0 ? 'EV0' : '' + datum.value","tickSize":3,"labelPadding":0,"title":null}},"y":{"datum":-1,"type":"quantitative","title":null,"scale":{"type":"symlog","constant":1.5,"domain":[-7.8,3700000],"nice":false,"zero":false},"axis":{"orient":"left","offset":-17,"values":[1,20,200,2000,20000,200000],"labels":false,"tickSize":2,"title":null}},"y2":{"datum":437000}}},
   {"data":{"name":"hgrid"},"transform":[{"filter":"datum.v < 1000000"}],"mark":{"type":"rule","color":"#303030","strokeWidth":0.8,"strokeDash":[2,2]},"encoding":{"x":{"datum":-10,"type":"quantitative","axis":null},"x2":{"datum":6.7},"y":{"field":"v","type":"quantitative","title":null}}},
   {"data":{"name":"hgrid"},"transform":[{"filter":"datum.v < 1000000"}],"mark":{"type":"text","align":"right","baseline":"middle","dx":-4,"fontSize":5,"color":"#222"},"encoding":{"x":{"datum":-10,"type":"quantitative","axis":null},"y":{"field":"v","type":"quantitative","title":null},"text":{"field":"lab"}}},
   {"data":{"values":[{}]},"mark":{"type":"rect","fillOpacity":0,"stroke":"#4a4a4a","strokeWidth":1},"encoding":{"x":{"datum":-10,"type":"quantitative","axis":{"orient":"bottom","offset":-7,"values":[-10,-8,-7.41504,-7,-6.67807,-6.41504,-6.19265,-6,-5.83007,-5.678072,-4.67807,-4.09311,-3.678072,-3.35614,-3.09311,-2.87072,-2.67807,-2.50815,-2.356144,-1.35614,-0.77118,-0.356144,-0.03422,0.22882,0.45121,0.64386,0.81378,0.965784,1.96578,2.55075,2.965784,3.28771,3.55075,3.77314,3.96578,4.13571,4.965784,5.28771,5.87267,6.28771,6.60964],"labelExpr":"datum.value <= -10 ? '0' : (indexof([2,10,40,100,400,1000,4000,16000], round(512*pow(2, datum.value))) >= 0 ? '' + round(512*pow(2, datum.value)) : '')","tickSize":{"condition":{"test":"datum.value <= -10 || indexof([2,10,40,100,400,1000,4000,16000], round(512*pow(2, datum.value))) >= 0","value":3},"value":1.5},"labelPadding":0,"title":null}},"x2":{"datum":6.7},"y":{"datum":-1,"type":"quantitative"},"y2":{"datum":437000}}},
   {"data":{"name":"hist"},"transform":[{"filter":"datum.p == 2 && datum.ch == 'G2'"}],"mark":{"type":"area","color":"#47c41c"},"encoding":{"x":{"field":"ev","type":"quantitative","axis":null},"y":{"field":"n","type":"quantitative","title":null},"y2":{"datum":0}}},
   {"data":{"name":"zero"},"transform":[{"filter":"datum.p == 2 && datum.ch == 'G2'"}],"mark":{"type":"rule","color":"#47c41c","strokeWidth":1},"encoding":{"x":{"field":"ev","type":"quantitative","axis":null},"y":{"field":"n","type":"quantitative"},"y2":{"datum":0}}},
   {"data":{"name":"stats"},"transform":[{"filter":"datum.p == 2 && datum.ch == 'G2'"}],"mark":{"type":"text","align":"left","baseline":"top","dx":4,"dy":1.5,"fontSize":5,"lineHeight":7.7,"lineBreak":"\n","color":"#222"},"encoding":{"x":{"datum":6.7,"type":"quantitative","axis":null},"y":{"datum":437000,"type":"quantitative"},"text":{"field":"txt"}}}
  ]}
 ]},
{"spacing": 2.3,
 "title": {"text": "Raw Data Histogram: DSC_3117.NEF", "subtitle": ["Nikon 1J5, ISO: 160, Exposure: 1/60 @ f/3.5, Channels: RGBG2", "Scale: EV (Photo), Bin: 1/48 EV, Black: Manual: 0, Curve: N/A"], "anchor": "middle", "fontSize": 8, "subtitleFontSize": 5.5, "subtitlePadding": 6.5, "subtitleLineHeight": 9.5, "offset": -34},
 "vconcat": [
  {"width":418,"height":85.5,"resolve":{"axis":{"x":"independent"}},"layer":[
   {"data":{"name":"vgrid"},"mark":{"type":"rule","color":"#6a6a6a","strokeWidth":1.3},"encoding":{"x":{"field":"ev","type":"quantitative","title":null,"scale":{"domain":[-10.78,8.39],"nice":false,"zero":false},"axis":{"orient":"top","offset":-11,"values":[-10,-9,-8,-7,-6,-5,-4,-3,-2,-1,0,1,2,3,4,5,6],"labelExpr":"datum.value == 0 ? 'EV0' : '' + datum.value","tickSize":3,"labelPadding":0,"title":null}},"y":{"datum":-1,"type":"quantitative","title":null,"scale":{"type":"symlog","constant":1.5,"domain":[-11.8,19300000],"nice":false,"zero":false},"axis":{"orient":"left","offset":-17,"values":[1,20,200,2000,20000,200000,2000000],"labels":false,"tickSize":2,"title":null}},"y2":{"datum":2480000}}},
   {"data":{"name":"hgrid"},"mark":{"type":"rule","color":"#303030","strokeWidth":0.8,"strokeDash":[2,2]},"encoding":{"x":{"datum":-10,"type":"quantitative","axis":null},"x2":{"datum":6.7},"y":{"field":"v","type":"quantitative","title":null}}},
   {"data":{"name":"hgrid"},"mark":{"type":"text","align":"right","baseline":"middle","dx":-4,"fontSize":5,"color":"#222"},"encoding":{"x":{"datum":-10,"type":"quantitative","axis":null},"y":{"field":"v","type":"quantitative","title":null},"text":{"field":"lab"}}},
   {"data":{"values":[{}]},"mark":{"type":"rect","fillOpacity":0,"stroke":"#4a4a4a","strokeWidth":1},"encoding":{"x":{"datum":-10,"type":"quantitative","axis":{"orient":"bottom","offset":-7,"values":[-10,-8,-7.41504,-7,-6.67807,-6.41504,-6.19265,-6,-5.83007,-5.678072,-4.67807,-4.09311,-3.678072,-3.35614,-3.09311,-2.87072,-2.67807,-2.50815,-2.356144,-1.35614,-0.77118,-0.356144,-0.03422,0.22882,0.45121,0.64386,0.81378,0.965784,1.96578,2.55075,2.965784,3.28771,3.55075,3.77314,3.96578,4.13571,4.965784,5.28771,5.87267,6.28771,6.60964],"labelExpr":"datum.value <= -10 ? '0' : (indexof([2,10,40,100,400,1000,4000,16000], round(512*pow(2, datum.value))) >= 0 ? '' + round(512*pow(2, datum.value)) : '')","tickSize":{"condition":{"test":"datum.value <= -10 || indexof([2,10,40,100,400,1000,4000,16000], round(512*pow(2, datum.value))) >= 0","value":3},"value":1.5},"labelPadding":0,"title":null}},"x2":{"datum":6.7},"y":{"datum":-1,"type":"quantitative"},"y2":{"datum":2480000}}},
   {"data":{"name":"hist"},"transform":[{"filter":"datum.p == 3 && datum.ch == 'R'"}],"mark":{"type":"area","color":"#c8161e"},"encoding":{"x":{"field":"ev","type":"quantitative","axis":null},"y":{"field":"n","type":"quantitative","title":null},"y2":{"datum":0}}},
   {"data":{"name":"zero"},"transform":[{"filter":"datum.p == 3 && datum.ch == 'R'"}],"mark":{"type":"rule","color":"#c8161e","strokeWidth":1},"encoding":{"x":{"field":"ev","type":"quantitative","axis":null},"y":{"field":"n","type":"quantitative"},"y2":{"datum":0}}},
   {"data":{"name":"stats"},"transform":[{"filter":"datum.p == 3 && datum.ch == 'R'"}],"mark":{"type":"text","align":"left","baseline":"top","dx":4,"dy":3,"fontSize":5,"lineHeight":7.7,"lineBreak":"\n","color":"#222"},"encoding":{"x":{"datum":6.7,"type":"quantitative","axis":null},"y":{"datum":2480000,"type":"quantitative"},"text":{"field":"txt"}}},
   {"data":{"name":"logo"},"mark":{"type":"point","shape":"triangle-up","filled":true,"size":729,"color":"#e8562a","opacity":1},"encoding":{"x":{"datum":7.64,"type":"quantitative","axis":null},"y":{"datum":2430000000,"type":"quantitative"}}},
   {"data":{"name":"logo"},"mark":{"type":"rule","color":"#111","strokeWidth":2.2},"encoding":{"x":{"datum":7.06,"type":"quantitative","axis":null},"x2":{"datum":7.47},"y":{"datum":180000000,"type":"quantitative"},"y2":{"datum":11100000000}}},
   {"data":{"name":"logo"},"mark":{"type":"text","text":"RAW","align":"right","baseline":"middle","fontSize":5,"fontWeight":"bold","color":"#e8562a"},"encoding":{"x":{"datum":7.335,"type":"quantitative","axis":null},"y":{"datum":76000000,"type":"quantitative"}}},
   {"data":{"name":"logo"},"mark":{"type":"text","text":"DIGGER","align":"left","baseline":"middle","fontSize":5,"fontWeight":"bold","color":"#222"},"encoding":{"x":{"datum":7.335,"type":"quantitative","axis":null},"y":{"datum":76000000,"type":"quantitative"}}}
  ]},
  {"width":418,"height":85.5,"resolve":{"axis":{"x":"independent"}},"layer":[
   {"data":{"name":"vgrid"},"mark":{"type":"rule","color":"#6a6a6a","strokeWidth":1.3},"encoding":{"x":{"field":"ev","type":"quantitative","title":null,"scale":{"domain":[-10.78,8.39],"nice":false,"zero":false},"axis":{"orient":"top","offset":-11,"values":[-10,-9,-8,-7,-6,-5,-4,-3,-2,-1,0,1,2,3,4,5,6],"labelExpr":"datum.value == 0 ? 'EV0' : '' + datum.value","tickSize":3,"labelPadding":0,"title":null}},"y":{"datum":-1,"type":"quantitative","title":null,"scale":{"type":"symlog","constant":1.5,"domain":[-11.8,19300000],"nice":false,"zero":false},"axis":{"orient":"left","offset":-17,"values":[1,20,200,2000,20000,200000,2000000],"labels":false,"tickSize":2,"title":null}},"y2":{"datum":2480000}}},
   {"data":{"name":"hgrid"},"mark":{"type":"rule","color":"#303030","strokeWidth":0.8,"strokeDash":[2,2]},"encoding":{"x":{"datum":-10,"type":"quantitative","axis":null},"x2":{"datum":6.7},"y":{"field":"v","type":"quantitative","title":null}}},
   {"data":{"name":"hgrid"},"mark":{"type":"text","align":"right","baseline":"middle","dx":-4,"fontSize":5,"color":"#222"},"encoding":{"x":{"datum":-10,"type":"quantitative","axis":null},"y":{"field":"v","type":"quantitative","title":null},"text":{"field":"lab"}}},
   {"data":{"values":[{}]},"mark":{"type":"rect","fillOpacity":0,"stroke":"#4a4a4a","strokeWidth":1},"encoding":{"x":{"datum":-10,"type":"quantitative","axis":{"orient":"bottom","offset":-7,"values":[-10,-8,-7.41504,-7,-6.67807,-6.41504,-6.19265,-6,-5.83007,-5.678072,-4.67807,-4.09311,-3.678072,-3.35614,-3.09311,-2.87072,-2.67807,-2.50815,-2.356144,-1.35614,-0.77118,-0.356144,-0.03422,0.22882,0.45121,0.64386,0.81378,0.965784,1.96578,2.55075,2.965784,3.28771,3.55075,3.77314,3.96578,4.13571,4.965784,5.28771,5.87267,6.28771,6.60964],"labelExpr":"datum.value <= -10 ? '0' : (indexof([2,10,40,100,400,1000,4000,16000], round(512*pow(2, datum.value))) >= 0 ? '' + round(512*pow(2, datum.value)) : '')","tickSize":{"condition":{"test":"datum.value <= -10 || indexof([2,10,40,100,400,1000,4000,16000], round(512*pow(2, datum.value))) >= 0","value":3},"value":1.5},"labelPadding":0,"title":null}},"x2":{"datum":6.7},"y":{"datum":-1,"type":"quantitative"},"y2":{"datum":2480000}}},
   {"data":{"name":"hist"},"transform":[{"filter":"datum.p == 3 && datum.ch == 'G'"}],"mark":{"type":"area","color":"#47c41c"},"encoding":{"x":{"field":"ev","type":"quantitative","axis":null},"y":{"field":"n","type":"quantitative","title":null},"y2":{"datum":0}}},
   {"data":{"name":"zero"},"transform":[{"filter":"datum.p == 3 && datum.ch == 'G'"}],"mark":{"type":"rule","color":"#47c41c","strokeWidth":1},"encoding":{"x":{"field":"ev","type":"quantitative","axis":null},"y":{"field":"n","type":"quantitative"},"y2":{"datum":0}}},
   {"data":{"name":"stats"},"transform":[{"filter":"datum.p == 3 && datum.ch == 'G'"}],"mark":{"type":"text","align":"left","baseline":"top","dx":4,"dy":3,"fontSize":5,"lineHeight":7.7,"lineBreak":"\n","color":"#222"},"encoding":{"x":{"datum":6.7,"type":"quantitative","axis":null},"y":{"datum":2480000,"type":"quantitative"},"text":{"field":"txt"}}}
  ]},
  {"width":418,"height":85.5,"resolve":{"axis":{"x":"independent"}},"layer":[
   {"data":{"name":"vgrid"},"mark":{"type":"rule","color":"#6a6a6a","strokeWidth":1.3},"encoding":{"x":{"field":"ev","type":"quantitative","title":null,"scale":{"domain":[-10.78,8.39],"nice":false,"zero":false},"axis":{"orient":"top","offset":-11,"values":[-10,-9,-8,-7,-6,-5,-4,-3,-2,-1,0,1,2,3,4,5,6],"labelExpr":"datum.value == 0 ? 'EV0' : '' + datum.value","tickSize":3,"labelPadding":0,"title":null}},"y":{"datum":-1,"type":"quantitative","title":null,"scale":{"type":"symlog","constant":1.5,"domain":[-11.8,19300000],"nice":false,"zero":false},"axis":{"orient":"left","offset":-17,"values":[1,20,200,2000,20000,200000,2000000],"labels":false,"tickSize":2,"title":null}},"y2":{"datum":2480000}}},
   {"data":{"name":"hgrid"},"mark":{"type":"rule","color":"#303030","strokeWidth":0.8,"strokeDash":[2,2]},"encoding":{"x":{"datum":-10,"type":"quantitative","axis":null},"x2":{"datum":6.7},"y":{"field":"v","type":"quantitative","title":null}}},
   {"data":{"name":"hgrid"},"mark":{"type":"text","align":"right","baseline":"middle","dx":-4,"fontSize":5,"color":"#222"},"encoding":{"x":{"datum":-10,"type":"quantitative","axis":null},"y":{"field":"v","type":"quantitative","title":null},"text":{"field":"lab"}}},
   {"data":{"values":[{}]},"mark":{"type":"rect","fillOpacity":0,"stroke":"#4a4a4a","strokeWidth":1},"encoding":{"x":{"datum":-10,"type":"quantitative","axis":{"orient":"bottom","offset":-7,"values":[-10,-8,-7.41504,-7,-6.67807,-6.41504,-6.19265,-6,-5.83007,-5.678072,-4.67807,-4.09311,-3.678072,-3.35614,-3.09311,-2.87072,-2.67807,-2.50815,-2.356144,-1.35614,-0.77118,-0.356144,-0.03422,0.22882,0.45121,0.64386,0.81378,0.965784,1.96578,2.55075,2.965784,3.28771,3.55075,3.77314,3.96578,4.13571,4.965784,5.28771,5.87267,6.28771,6.60964],"labelExpr":"datum.value <= -10 ? '0' : (indexof([2,10,40,100,400,1000,4000,16000], round(512*pow(2, datum.value))) >= 0 ? '' + round(512*pow(2, datum.value)) : '')","tickSize":{"condition":{"test":"datum.value <= -10 || indexof([2,10,40,100,400,1000,4000,16000], round(512*pow(2, datum.value))) >= 0","value":3},"value":1.5},"labelPadding":0,"title":null}},"x2":{"datum":6.7},"y":{"datum":-1,"type":"quantitative"},"y2":{"datum":2480000}}},
   {"data":{"name":"hist"},"transform":[{"filter":"datum.p == 3 && datum.ch == 'B'"}],"mark":{"type":"area","color":"#1c16c8"},"encoding":{"x":{"field":"ev","type":"quantitative","axis":null},"y":{"field":"n","type":"quantitative","title":null},"y2":{"datum":0}}},
   {"data":{"name":"zero"},"transform":[{"filter":"datum.p == 3 && datum.ch == 'B'"}],"mark":{"type":"rule","color":"#1c16c8","strokeWidth":1},"encoding":{"x":{"field":"ev","type":"quantitative","axis":null},"y":{"field":"n","type":"quantitative"},"y2":{"datum":0}}},
   {"data":{"name":"stats"},"transform":[{"filter":"datum.p == 3 && datum.ch == 'B'"}],"mark":{"type":"text","align":"left","baseline":"top","dx":4,"dy":3,"fontSize":5,"lineHeight":7.7,"lineBreak":"\n","color":"#222"},"encoding":{"x":{"datum":6.7,"type":"quantitative","axis":null},"y":{"datum":2480000,"type":"quantitative"},"text":{"field":"txt"}}}
  ]},
  {"width":418,"height":85.5,"resolve":{"axis":{"x":"independent"}},
   "title":{"text":"Created with RawDigger (www.rawdigger.com)","orient":"bottom","anchor":"middle","fontSize":5.5,"offset":2},
   "layer":[
   {"data":{"name":"vgrid"},"mark":{"type":"rule","color":"#6a6a6a","strokeWidth":1.3},"encoding":{"x":{"field":"ev","type":"quantitative","title":null,"scale":{"domain":[-10.78,8.39],"nice":false,"zero":false},"axis":{"orient":"top","offset":-11,"values":[-10,-9,-8,-7,-6,-5,-4,-3,-2,-1,0,1,2,3,4,5,6],"labelExpr":"datum.value == 0 ? 'EV0' : '' + datum.value","tickSize":3,"labelPadding":0,"title":null}},"y":{"datum":-1,"type":"quantitative","title":null,"scale":{"type":"symlog","constant":1.5,"domain":[-11.8,19300000],"nice":false,"zero":false},"axis":{"orient":"left","offset":-17,"values":[1,20,200,2000,20000,200000,2000000],"labels":false,"tickSize":2,"title":null}},"y2":{"datum":2480000}}},
   {"data":{"name":"hgrid"},"mark":{"type":"rule","color":"#303030","strokeWidth":0.8,"strokeDash":[2,2]},"encoding":{"x":{"datum":-10,"type":"quantitative","axis":null},"x2":{"datum":6.7},"y":{"field":"v","type":"quantitative","title":null}}},
   {"data":{"name":"hgrid"},"mark":{"type":"text","align":"right","baseline":"middle","dx":-4,"fontSize":5,"color":"#222"},"encoding":{"x":{"datum":-10,"type":"quantitative","axis":null},"y":{"field":"v","type":"quantitative","title":null},"text":{"field":"lab"}}},
   {"data":{"values":[{}]},"mark":{"type":"rect","fillOpacity":0,"stroke":"#4a4a4a","strokeWidth":1},"encoding":{"x":{"datum":-10,"type":"quantitative","axis":{"orient":"bottom","offset":-7,"values":[-10,-8,-7.41504,-7,-6.67807,-6.41504,-6.19265,-6,-5.83007,-5.678072,-4.67807,-4.09311,-3.678072,-3.35614,-3.09311,-2.87072,-2.67807,-2.50815,-2.356144,-1.35614,-0.77118,-0.356144,-0.03422,0.22882,0.45121,0.64386,0.81378,0.965784,1.96578,2.55075,2.965784,3.28771,3.55075,3.77314,3.96578,4.13571,4.965784,5.28771,5.87267,6.28771,6.60964],"labelExpr":"datum.value <= -10 ? '0' : (indexof([2,10,40,100,400,1000,4000,16000], round(512*pow(2, datum.value))) >= 0 ? '' + round(512*pow(2, datum.value)) : '')","tickSize":{"condition":{"test":"datum.value <= -10 || indexof([2,10,40,100,400,1000,4000,16000], round(512*pow(2, datum.value))) >= 0","value":3},"value":1.5},"labelPadding":0,"title":null}},"x2":{"datum":6.7},"y":{"datum":-1,"type":"quantitative"},"y2":{"datum":2480000}}},
   {"data":{"name":"hist"},"transform":[{"filter":"datum.p == 3 && datum.ch == 'G2'"}],"mark":{"type":"area","color":"#47c41c"},"encoding":{"x":{"field":"ev","type":"quantitative","axis":null},"y":{"field":"n","type":"quantitative","title":null},"y2":{"datum":0}}},
   {"data":{"name":"zero"},"transform":[{"filter":"datum.p == 3 && datum.ch == 'G2'"}],"mark":{"type":"rule","color":"#47c41c","strokeWidth":1},"encoding":{"x":{"field":"ev","type":"quantitative","axis":null},"y":{"field":"n","type":"quantitative"},"y2":{"datum":0}}},
   {"data":{"name":"stats"},"transform":[{"filter":"datum.p == 3 && datum.ch == 'G2'"}],"mark":{"type":"text","align":"left","baseline":"top","dx":4,"dy":3,"fontSize":5,"lineHeight":7.7,"lineBreak":"\n","color":"#222"},"encoding":{"x":{"datum":6.7,"type":"quantitative","axis":null},"y":{"datum":2480000,"type":"quantitative"},"text":{"field":"txt"}}}
  ]}
 ]}
]
}
